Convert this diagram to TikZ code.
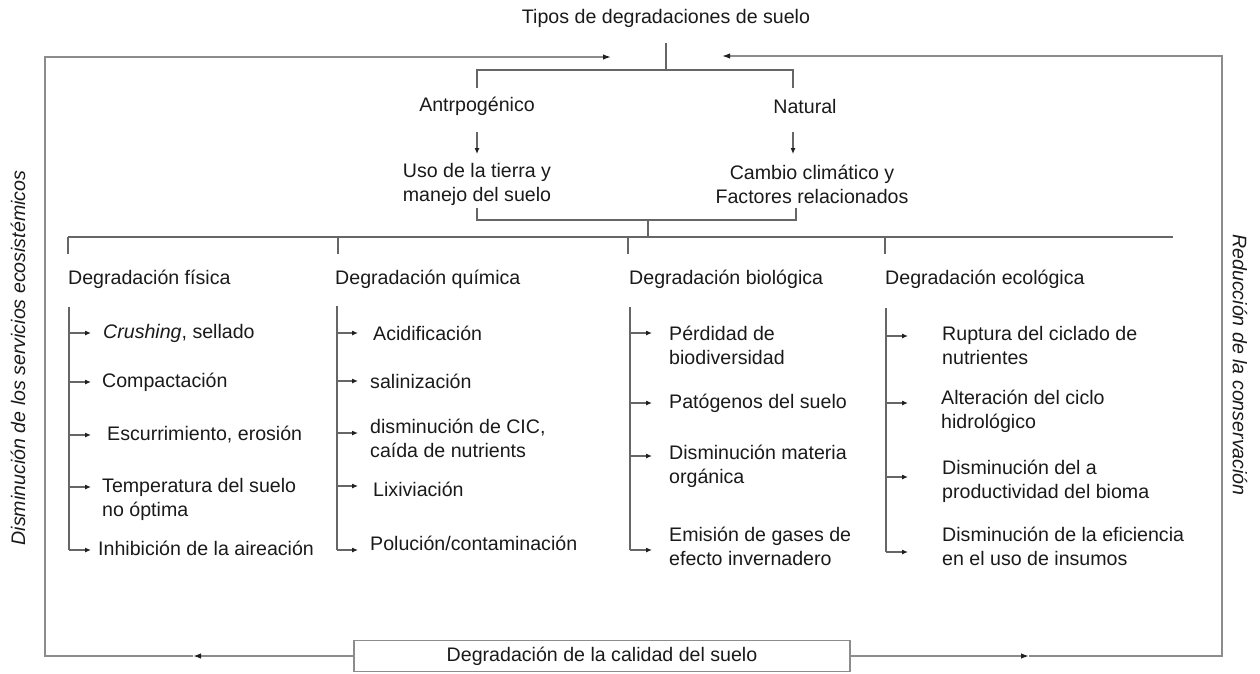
\documentclass[tikz,border=0pt]{standalone}
\usepackage{fontspec}
\setmainfont{Liberation Sans}
\usetikzlibrary{arrows.meta}
\definecolor{txt}{HTML}{1A1A1A}
\definecolor{ln}{HTML}{666666}
\definecolor{fr}{HTML}{8C8C8C}
\definecolor{tip}{HTML}{202020}
\tikzset{
  lbl/.style={inner sep=0pt, text=txt, font=\fontsize{19.6}{24}\selectfont},
  lbll/.style={lbl, anchor=west, align=left},
  lblc/.style={lbl, align=center},
  ln/.style={draw=ln, line width=1.1pt},
  frame/.style={draw=fr, line width=1.5pt},
  arr/.style={ln, -{Latex[length=6pt,width=5pt,color=tip]}},
  farr/.style={frame, -{Latex[length=8pt,width=5.5pt,color=tip]}},
}
\begin{document}
\begin{tikzpicture}[x=1pt,y=-1pt]
\useasboundingbox (0,0) rectangle (1260,673);

% ---- top part
\node[lblc] (title) at (666,18) {Tipos de degradaciones de suelo};
\coordinate (tb) at (666,43);
\coordinate (tj) at (666,70);
\coordinate (bl) at (477,70);
\coordinate (br) at (793,70);
\draw[ln] (tb) -- (tj);
\draw[ln] (477,88) -- (bl) -- (br) -- (793,88);

\node[lblc] (antro) at (477,106) {Antrpogénico};
\node[lblc] (natural) at (805,106) {Natural};
\coordinate (aa) at (477,132); \coordinate (ab) at (477,154);
\coordinate (na) at (793,132); \coordinate (nb) at (793,154);
\draw[arr] (aa) -- (ab);
\draw[arr] (na) -- (nb);

\node[lblc] (uso) at (477,184) {Uso de la tierra y\\manejo del suelo};
\node[lblc] (cambio) at (812,184) {Cambio climático y\\Factores relacionados};

\coordinate (jl) at (477,220);
\coordinate (jr) at (796,220);
\coordinate (jm) at (648,220);
\coordinate (jb) at (648,237);
\draw[ln] (477,208) -- (jl) -- (jr) -- (796,208);
\draw[ln] (jm) -- (jb);

% ---- big horizontal with column drops
\draw[ln] (68,237) -- (1173,237);
\foreach \x in {68,338,628,885} \draw[ln] (\x,237) -- (\x,254);

\node[lbll] (h1) at (68,279) {Degradación física};
\node[lbll] (h2) at (335,279) {Degradación química};
\node[lbll] (h3) at (629,279) {Degradación biológica};
\node[lbll] (h4) at (885,279) {Degradación ecológica};

% ---- column 1
\draw[ln] (69,307) -- (69,550);
\foreach \y in {333,382,435,487,550} \draw[arr] (69,\y) -- (91,\y);
\node[lbll] (c1a) at (103,333) {\textit{Crushing}, sellado};
\node[lbll] (c1b) at (102,382) {Compactación};
\node[lbll] (c1c) at (107,435) {Escurrimiento, erosión};
\node[lbll] (c1d) at (102,499.5) {Temperatura del suelo\\no óptima};
\node[lbll] (c1e) at (98,548) {Inhibición de la aireación};

% ---- column 2
\draw[ln] (337,306) -- (337,550);
\foreach \y in {333,381,433,486,550} \draw[arr] (337,\y) -- (358,\y);
\node[lbll] (c2a) at (373,333) {Acidificación};
\node[lbll] (c2b) at (370,381) {salinización};
\node[lbll] (c2c) at (370,438.5) {disminución de CIC,\\caída de nutrients};
\node[lbll] (c2d) at (373,489) {Lixiviación};
\node[lbll] (c2e) at (370,543) {Polución/contaminación};

% ---- column 3
\draw[ln] (630,307) -- (630,550);
\foreach \y in {333,403,456,550} \draw[arr] (630,\y) -- (652,\y);
\node[lbll] (c3a) at (669,345) {Pérdidad de\\biodiversidad};
\node[lbll] (c3b) at (669,403) {Patógenos del suelo};
\node[lbll] (c3c) at (669,466.5) {Disminución materia\\orgánica};
\node[lbll] (c3d) at (669,546.5) {Emisión de gases de\\efecto invernadero};

% ---- column 4
\draw[ln] (886,308) -- (886,552);
\foreach \y in {336,403,477,552} \draw[arr] (886,\y) -- (908,\y);
\node[lbll] (c4a) at (942,345) {Ruptura del ciclado de\\nutrientes};
\node[lbll] (c4b) at (941,411.5) {Alteración del ciclo\\hidrológico};
\node[lbll] (c4c) at (942,481) {Disminución del a\\productividad del bioma};
\node[lbll] (c4d) at (942,546.5) {Disminución de la eficiencia\\en el uso de insumos};

% ---- bottom box and outer loop
\node[lblc, draw=fr, line width=1.5pt, minimum width=496pt, minimum height=31pt] (box) at (602,656) {Degradación de la calidad del suelo};
\coordinate (la) at (193,656);
\coordinate (ra) at (1029,656);
\coordinate (cbl) at (45,656);
\coordinate (ctl) at (45,57);
\coordinate (tla) at (611,57);
\coordinate (cbr) at (1222,656);
\coordinate (ctr) at (1222,56);
\coordinate (tra) at (722,56);
\draw[farr] (box.west) -- (la);
\draw[farr] (la) -- (cbl) -- (ctl) -- (tla);
\draw[farr] (box.east) -- (ra);
\draw[farr] (ra) -- (cbr) -- (ctr) -- (tra);

% ---- side labels
\node[lblc, rotate=90] (left) at (18,358) {\textit{Disminución de los servicios ecosistémicos}};
\node[lblc, rotate=-90] (right) at (1240,365) {\textit{Reducción de la conservación}};
\end{tikzpicture}
\end{document}
